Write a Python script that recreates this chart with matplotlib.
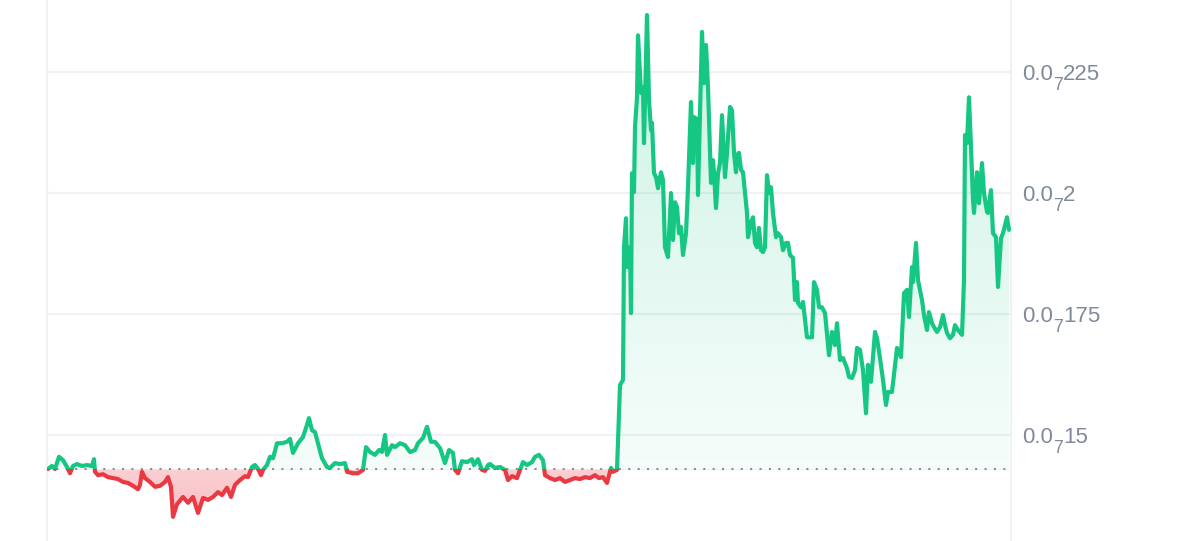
import numpy as np
import matplotlib
matplotlib.use("Agg")
import matplotlib.pyplot as plt
from matplotlib.patches import Polygon, Rectangle

plt.rcParams["font.family"] = ["Liberation Sans", "DejaVu Sans"]

# ============================================================
# data (price in units of 1e-8, time in arbitrary steps)
# ============================================================
t_part1 = [1, 5, 8, 12, 16, 20, 23, 26, 30, 35, 40, 45, 47, 48, 51, 56, 61, 66, 71, 76,
           81, 86, 91, 93, 95, 98, 103, 108, 113, 118, 121, 124, 126, 130, 136, 141, 146, 151, 156, 161,
           166, 171, 175, 180, 184, 188, 193, 198, 201, 205, 208, 211, 214, 216, 220, 223, 226, 230, 235, 240,
           243, 246, 251, 256, 260, 262, 265, 268, 271, 275, 280, 283, 288, 293]
p_part1 = [1.430, 1.436, 1.430, 1.455, 1.448, 1.434, 1.421, 1.436, 1.440, 1.436,
           1.438, 1.436, 1.450, 1.424, 1.417, 1.419, 1.413, 1.411, 1.409, 1.403,
           1.401, 1.395, 1.388, 1.397, 1.424, 1.411, 1.403, 1.393, 1.395, 1.403,
           1.413, 1.393, 1.331, 1.357, 1.372, 1.360, 1.372, 1.339, 1.370, 1.366,
           1.372, 1.382, 1.376, 1.391, 1.372, 1.397, 1.407, 1.415, 1.413, 1.434,
           1.438, 1.430, 1.417, 1.428, 1.438, 1.455, 1.452, 1.483, 1.483, 1.486,
           1.492, 1.463, 1.483, 1.496, 1.521, 1.535, 1.510, 1.506, 1.483, 1.452,
           1.434, 1.432, 1.442, 1.440]

t_part2 = [298, 300, 306, 311, 316, 319, 323, 328, 332, 335, 338, 340, 345, 348, 353, 358, 363, 368, 371, 376,
           380, 384, 388, 393, 398, 402, 406, 408, 411, 415, 420, 425, 427, 431, 435, 438, 441]
p_part2 = [1.442, 1.424, 1.421, 1.421, 1.428, 1.475, 1.465, 1.459, 1.469, 1.465,
           1.500, 1.459, 1.479, 1.475, 1.483, 1.479, 1.465, 1.469, 1.483, 1.494,
           1.517, 1.486, 1.486, 1.473, 1.442, 1.469, 1.463, 1.428, 1.421, 1.446,
           1.444, 1.450, 1.438, 1.450, 1.428, 1.426, 1.438]

t_part3 = [443, 448, 453, 458, 461, 465, 470, 473, 476, 480, 485, 488, 492, 496, 498, 503, 508, 513, 518, 523,
           528, 533, 538, 543, 548, 552, 556, 560, 564, 566, 570]
p_part3 = [1.440, 1.432, 1.434, 1.428, 1.407, 1.415, 1.411, 1.428, 1.444, 1.438,
           1.444, 1.455, 1.459, 1.448, 1.417, 1.411, 1.407, 1.411, 1.403, 1.407,
           1.411, 1.409, 1.413, 1.411, 1.417, 1.411, 1.413, 1.401, 1.432, 1.424,
           1.428]

t_part4 = [573, 576, 577, 579, 580, 583, 584, 585, 587, 588, 590, 591, 594, 596, 597, 600, 602, 604, 605, 607,
           609, 611, 614, 616, 618, 621, 624, 626, 628, 630, 632, 634, 636, 639, 641, 644, 646, 647, 650, 651]
p_part4 = [1.603, 1.614, 1.888, 1.948, 1.847, 1.888, 1.752, 2.041, 2.002, 2.136,
           2.198, 2.326, 2.207, 2.219, 2.103, 2.368, 2.192, 2.130, 2.145, 2.041,
           2.033, 2.010, 2.043, 2.027, 1.888, 1.868, 2.000, 1.903, 1.981, 1.971,
           1.917, 1.930, 1.872, 1.917, 2.012, 2.188, 2.062, 2.157, 2.153, 1.996]

t_part5 = [654, 655, 657, 659, 661, 662, 664, 666, 667, 669, 671, 673, 675, 678, 680, 683, 685, 687, 689, 690,
           692, 694, 696, 700, 701, 704, 706, 708, 710, 712, 714, 716, 718, 720, 722, 724, 726, 729, 731, 734,
           736, 739, 741]
p_part5 = [2.254, 2.333, 2.227, 2.306, 2.219, 2.151, 2.021, 2.068, 2.041, 1.969,
           2.041, 2.062, 2.161, 2.033, 2.083, 2.178, 2.171, 2.083, 2.043, 2.079,
           2.083, 2.048, 2.043, 1.959, 1.909, 1.940, 1.950, 1.897, 1.888, 1.928,
           1.882, 1.878, 1.888, 2.037, 2.000, 2.012, 1.959, 1.909, 1.917, 1.909,
           1.882, 1.897, 1.897]

t_part6 = [743, 746, 748, 750, 751, 754, 756, 760, 765, 767, 770, 772, 775, 778, 782, 785, 788, 790, 793, 796,
           800, 802, 805, 808, 810, 813, 816, 819, 821, 824, 828, 830, 833, 836, 839, 841, 845, 850, 854, 857,
           860, 862, 865, 866, 869, 871, 875, 877, 880, 882, 885, 887, 890, 893, 896, 898, 900, 903, 906, 908,
           911, 915, 917, 918, 920, 922, 924, 926, 927, 930, 932, 935, 937, 940, 941, 944, 946, 949, 951, 954,
           956, 960, 962]
p_part6 = [1.872, 1.866, 1.779, 1.816, 1.773, 1.764, 1.775, 1.702, 1.702, 1.816,
           1.800, 1.764, 1.764, 1.752, 1.665, 1.713, 1.686, 1.731, 1.655, 1.659,
           1.638, 1.620, 1.618, 1.634, 1.680, 1.676, 1.634, 1.545, 1.645, 1.610,
           1.713, 1.700, 1.659, 1.614, 1.562, 1.589, 1.589, 1.680, 1.661, 1.793,
           1.800, 1.744, 1.847, 1.816, 1.897, 1.820, 1.779, 1.748, 1.717, 1.754,
           1.731, 1.723, 1.713, 1.723, 1.748, 1.727, 1.711, 1.700, 1.707, 1.727,
           1.717, 1.707, 1.820, 2.120, 2.103, 2.198, 2.095, 1.986, 1.959, 2.043,
           1.979, 2.062, 2.000, 1.961, 1.959, 2.006, 1.917, 1.909, 1.806, 1.907,
           1.917, 1.950, 1.924]

open_price = 1.429          # reference (dotted) line
tick_values = [1.5, 1.75, 2.0, 2.25]
# labels written as "0.0" + subscript zero count + significant digits
tick_prefix = "0.0"
tick_zeros = "7"
tick_digits = ["15", "175", "2", "225"]

t = np.array(t_part1 + t_part2 + t_part3 + t_part4 + t_part5 + t_part6, dtype=float)
price = np.array(p_part1 + p_part2 + p_part3 + p_part4 + p_part5 + p_part6)

GREEN = "#16c784"
RED = "#ea3943"
GRID = "#eff1f4"
LABEL = "#808a9d"

x_max = 964
y_lo, y_hi = 1.281, 2.399

# ============================================================
# plot
# ============================================================
fig = plt.figure(figsize=(12, 5.41), dpi=100)
ax = fig.add_axes([47 / 1200, 0, (1011 - 47) / 1200, 1])

# gradient fills, clipped by the area between price and reference line
verts = np.vstack([[t[0], open_price], np.column_stack([t, price]), [t[-1], open_price]])
area = Polygon(verts, closed=True, facecolor="none", edgecolor="none", transform=ax.transData)
ax.add_patch(area)

n = 256
g_img = np.zeros((n, 1, 4))
g_img[:, 0, :3] = matplotlib.colors.to_rgb(GREEN)
g_img[:, 0, 3] = np.linspace(0.04, 0.22, n)
im_g = ax.imshow(g_img, origin="lower", aspect="auto", interpolation="bilinear",
                 extent=[0, x_max, open_price, price.max()], zorder=1)
im_g.set_clip_path(area)

r_img = np.zeros((n, 1, 4))
r_img[:, 0, :3] = matplotlib.colors.to_rgb(RED)
r_img[:, 0, 3] = np.linspace(0.32, 0.24, n)
im_r = ax.imshow(r_img, origin="lower", aspect="auto", interpolation="bilinear",
                 extent=[0, x_max, price.min(), open_price], zorder=1)
im_r.set_clip_path(area)

# price line, green above the reference and red below it
for color, y0 in [(GREEN, open_price), (RED, open_price - 5)]:
    line, = ax.plot(t, price, color=color, lw=3.0, solid_joinstyle="round",
                    solid_capstyle="round", zorder=3)
    line.set_clip_path(Rectangle((0, y0), x_max, 5, transform=ax.transData))

ax.axhline(open_price, color="#8e8e8e", lw=1.5, ls=(0, (1, 3.5)), zorder=2)

ax.set_xlim(0, x_max)
ax.set_ylim(y_lo, y_hi)
ax.set_xticks([])
ax.set_yticks(tick_values)
ax.yaxis.tick_right()
ax.tick_params(axis="y", length=0, labelright=False)
ax.grid(axis="y", color=GRID, lw=1.5)
ax.set_axisbelow(True)
for side in ["top", "bottom"]:
    ax.spines[side].set_visible(False)
for side in ["left", "right"]:
    ax.spines[side].set_color(GRID)
    ax.spines[side].set_linewidth(1.5)

# right-hand price labels with subscript zero count
renderer = fig.canvas.get_renderer()
trans = ax.get_yaxis_transform()
pad, base_dy, sub_dy = 8.0, -5.6, -13.2
main_fs, sub_fs = 16, 13
for v, digits in zip(tick_values, tick_digits):
    a = ax.annotate(tick_prefix, xy=(1, v), xycoords=trans, xytext=(pad, base_dy),
                    textcoords="offset points", va="baseline", ha="left",
                    fontsize=main_fs, color=LABEL, annotation_clip=False)
    wa = a.get_window_extent(renderer).width * 72 / fig.dpi
    b = ax.annotate(tick_zeros, xy=(1, v), xycoords=trans, xytext=(pad + wa + 0.3, sub_dy),
                    textcoords="offset points", va="baseline", ha="left",
                    fontsize=sub_fs, color=LABEL, annotation_clip=False)
    wb = b.get_window_extent(renderer).width * 72 / fig.dpi
    ax.annotate(digits, xy=(1, v), xycoords=trans, xytext=(pad + wa + wb + 0.3, base_dy),
                textcoords="offset points", va="baseline", ha="left",
                fontsize=main_fs, color=LABEL, annotation_clip=False)

fig.savefig("out.png", dpi=100)
